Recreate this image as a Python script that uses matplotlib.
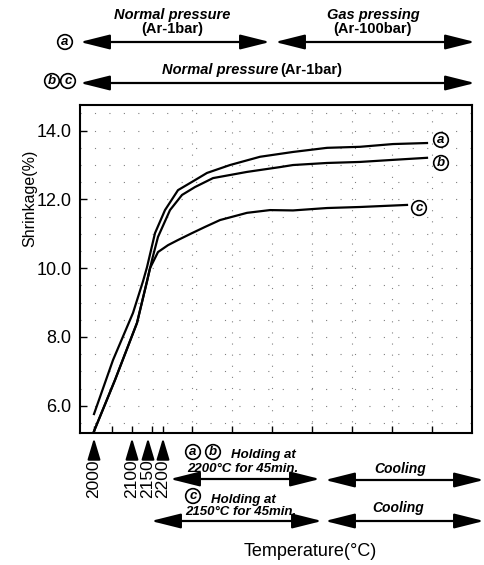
import matplotlib
matplotlib.use("Agg")
import matplotlib.pyplot as plt
from matplotlib.transforms import blended_transform_factory

# Shrinkage curves (x = time-like position along the run, y = shrinkage %)
t_a = [5.5, 10.25, 15.25, 17.75, 18.75, 20.75, 23.25, 26.5, 30.0, 33.75,
       39.5, 47.0, 55.25, 63.75, 72.0, 80.25, 88.75]
s_a = [5.76, 7.33, 8.70, 9.62, 10.03, 11.02, 11.69, 12.27, 12.51, 12.77,
       13.00, 13.24, 13.38, 13.50, 13.53, 13.61, 13.64]

t_b = [5.5, 10.75, 16.25, 18.75, 20.0, 21.5, 24.5, 27.5, 30.75, 35.25,
       43.75, 52.0, 55.25, 63.75, 72.0, 80.25, 88.75]
s_b = [5.26, 6.75, 8.41, 9.62, 10.24, 10.91, 11.69, 12.13, 12.36, 12.62,
       12.80, 12.94, 13.00, 13.06, 13.09, 13.15, 13.21]

t_c = [5.5, 10.75, 16.25, 18.75, 19.5, 21.5, 24.0, 26.5, 30.0, 33.25, 37.0,
       43.75, 49.5, 55.25, 63.75, 72.0, 83.75]
s_c = [5.26, 6.75, 8.41, 9.62, 10.0, 10.47, 10.67, 10.82, 11.02, 11.20, 11.40,
       11.61, 11.69, 11.68, 11.75, 11.78, 11.84]

# temperature marks below the axis
temps = ["2000", "2100", "2150", "2200"]
temp_t = [5.5, 15.0, 19.0, 22.75]

y_ticks = [6.0, 8.0, 10.0, 12.0, 14.0]
y_ticklabels = ["6.0", "8.0", "10.0", "12.0", "14.0"]
x_ticks = [5.5, 10, 15, 20, 22.75, 30, 40, 50, 60, 70, 80, 90]

plt.rcParams["font.family"] = ["Liberation Sans", "DejaVu Sans"]

W, H = 485, 565
fig = plt.figure(figsize=(W / 100, H / 100), dpi=100)
ax = fig.add_axes([80 / W, 1 - 433.3 / H, 392 / W, 328.8 / H])

# faint dotted grid (scan speckles in the original)
for yv in [5.5 + 0.5 * i for i in range(19)]:
    ax.axhline(yv, color="0.5", lw=0.8, ls=(0, (1, 12)), zorder=0)
for xv in range(30, 100, 10):
    ax.axvline(xv, color="0.5", lw=0.8, ls=(0, (1, 9)), zorder=0)

for t, s in [(t_a, s_a), (t_b, s_b), (t_c, s_c)]:
    ax.plot(t, s, color="black", lw=1.6, zorder=3)

ax.set_xlim(2, 100)
ax.set_ylim(5.2, 14.76)
ax.set_yticks(y_ticks)
ax.set_yticklabels(y_ticklabels, fontsize=13)
ax.set_xticks(x_ticks)
ax.set_xticklabels([])
ax.tick_params(direction="in", length=5, width=1, pad=6)
for sp in ax.spines.values():
    sp.set_linewidth(1.5)

circ = dict(boxstyle="circle,pad=0.1", fc="white", ec="black", lw=1.2)
lab_kw = dict(ha="center", va="center", fontsize=9.5, fontweight="bold",
              style="italic", bbox=circ, zorder=5)
ax.text(92.25, 13.73, "a", **lab_kw)
ax.text(92.25, 13.06, "b", **lab_kw)
ax.text(86.75, 11.75, "c", **lab_kw)

# overlay in pixel coordinates for the annotation layer
ov = fig.add_axes([0, 0, 1, 1], zorder=10)
ov.set_xlim(0, W)
ov.set_ylim(H, 0)
ov.axis("off")
ov.patch.set_alpha(0)


def dbl_arrow(x0, x1, y):
    ov.annotate("", xy=(x1, y), xytext=(x0, y),
                arrowprops=dict(arrowstyle="<|-|>,head_length=1.4,head_width=0.35",
                                mutation_scale=13, lw=1.6, color="black",
                                shrinkA=0, shrinkB=0))


bi = dict(fontweight="bold", style="italic", ha="center", va="center")
ov.text(172, 15, "Normal pressure", fontsize=10.5, **bi)
ov.text(172, 29, "(Ar-1bar)", fontsize=10.5, fontweight="bold", ha="center", va="center")
ov.text(373, 15, "Gas pressing", fontsize=10.5, **bi)
ov.text(373, 29, "(Ar-100bar)", fontsize=10.5, fontweight="bold", ha="center", va="center")
ov.text(65, 42, "a", **lab_kw)
dbl_arrow(80, 270, 42)
dbl_arrow(275, 475, 42)

ov.text(278, 70, "Normal pressure", fontsize=10.5, fontweight="bold", style="italic",
        ha="right", va="center")
ov.text(280, 70, "(Ar-1bar)", fontsize=10.5, fontweight="bold", ha="left", va="center")
ov.text(52, 81, "b", **lab_kw)
ov.text(68, 81, "c", **lab_kw)
dbl_arrow(80, 475, 83)

# temperature arrows, x from data
trans = blended_transform_factory(ax.transData, ov.transData)
for lab, t in zip(temps, temp_t):
    ov.annotate("", xy=(t, 438), xytext=(t, 458), xycoords=trans, textcoords=trans,
                arrowprops=dict(arrowstyle="-|>,head_length=1.0,head_width=0.3",
                                mutation_scale=13, lw=1.5, color="black",
                                shrinkA=0, shrinkB=0))
    ov.text(t, 459, lab, transform=trans, rotation=90, ha="center", va="top",
            fontsize=12.5)

# holding / cooling rows
ov.text(193, 452, "a", **lab_kw)
ov.text(213, 452, "b", **lab_kw)
ov.text(263, 455, "Holding at", fontsize=9.5, **bi)
ov.text(243, 469, "2200\u00b0C for 45min.", fontsize=9.5, **bi)
dbl_arrow(170, 320, 479)
ov.text(400, 469, "Cooling", fontsize=10, **bi)
dbl_arrow(325, 484, 480)

ov.text(193, 496, "c", **lab_kw)
ov.text(243, 500, "Holding at", fontsize=9.5, **bi)
ov.text(241, 512, "2150\u00b0C for 45min.", fontsize=9.5, **bi)
dbl_arrow(151, 322, 521)
ov.text(398, 508, "Cooling", fontsize=10, **bi)
dbl_arrow(325, 484, 521)

ov.text(310, 552, "Temperature(\u00b0C)", fontsize=13, ha="center", va="center")
ov.text(30, 198, "Shrinkage(%)", fontsize=11.5, rotation=90, ha="center", va="center")

fig.savefig("out.png", dpi=100)
